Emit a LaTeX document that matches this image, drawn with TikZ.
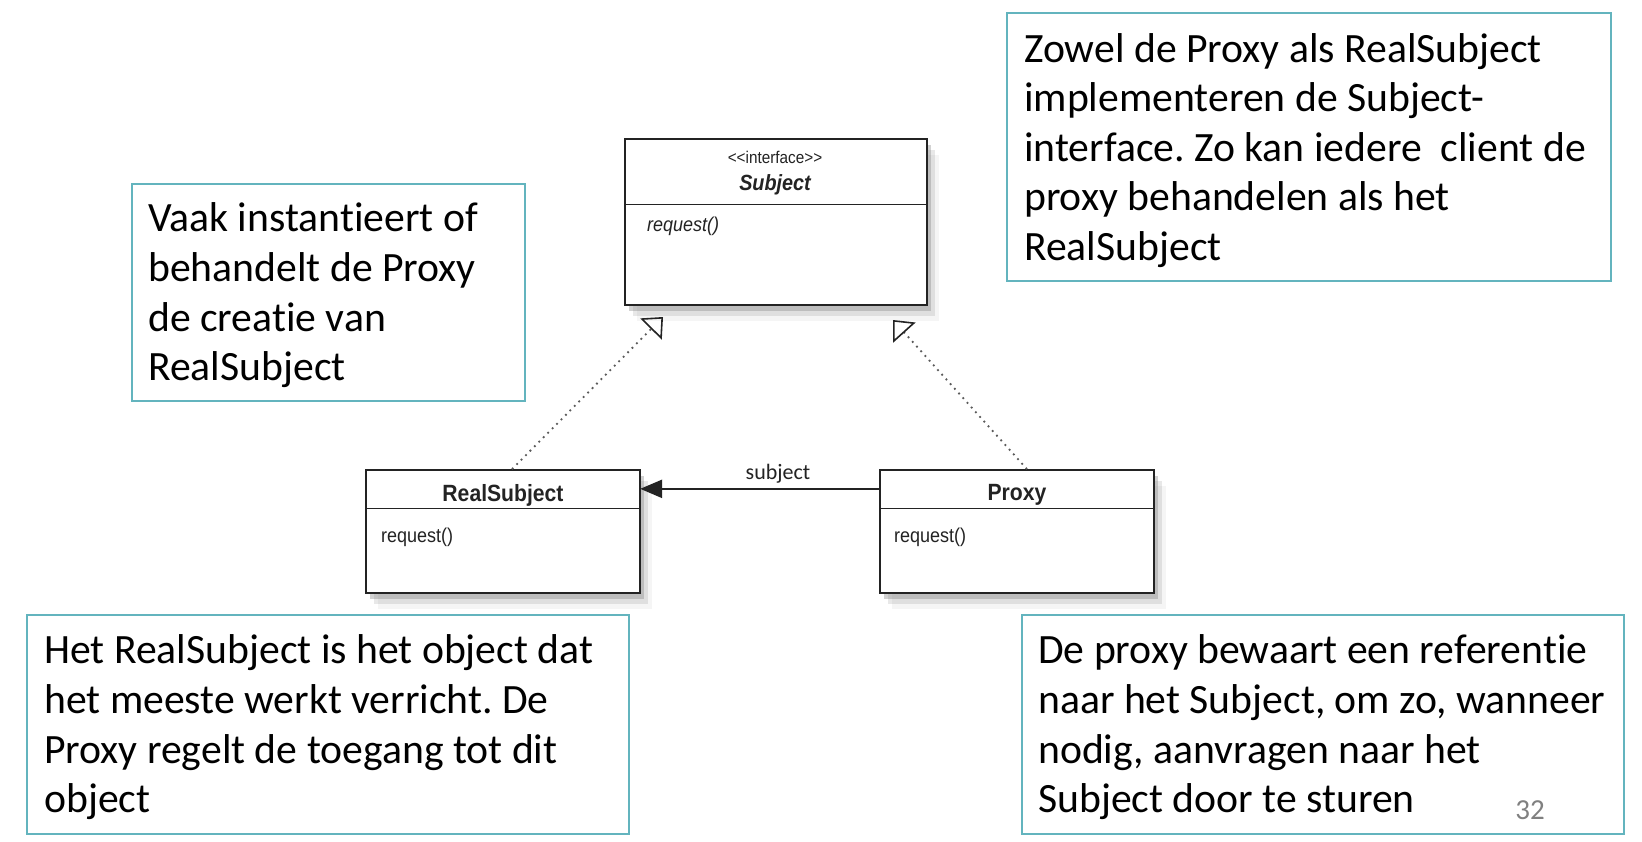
\documentclass[tikz,border=0pt]{standalone}
\usepackage{fontspec}
\setmainfont[Ligatures={NoCommon}]{Carlito}
\newfontfamily\umlfont[FakeStretch=0.9]{Liberation Sans}
\usetikzlibrary{arrows.meta,shadows,calc}
\definecolor{tealbox}{RGB}{99,180,190}
\definecolor{umlline}{RGB}{35,35,35}
\definecolor{dotgray}{RGB}{90,90,90}
\frenchspacing
\begin{document}
\begin{tikzpicture}[x=1pt,y=-1pt,
  notebox/.style={draw=tealbox, line width=1.8pt, anchor=north west, inner sep=0pt},
  notetext/.style={anchor=west, inner sep=0pt, align=left, font=\fontsize{41.7}{49.6}\selectfont},
  umlbox/.style={draw=umlline, line width=1.7pt, fill=white, inner sep=0pt,
    drop shadow={shadow xshift=12pt, shadow yshift=-16pt, opacity=0.08},
    drop shadow={shadow xshift=8pt, shadow yshift=-11pt, opacity=0.18},
    drop shadow={shadow xshift=4pt, shadow yshift=-6pt, opacity=0.35}},
  hdr/.style={inner sep=0pt, font=\umlfont\fontsize{23.5}{25}\selectfont\bfseries, text=umlline},
  umltxt/.style={inner sep=0pt, font=\umlfont\fontsize{20}{22}\selectfont, text=umlline},
  divider/.style={draw=umlline, line width=1.5pt},
  realize/.style={draw=dotgray, line width=1.8pt, dash pattern=on 1.8pt off 4.5pt,
    -{Triangle[open, length=17pt, width=30pt, line width=1.6pt, color=umlline]}},
  assoc/.style={draw=umlline, line width=2.6pt, -{Triangle[length=22pt, width=18pt]}}
]
\useasboundingbox (0,0) rectangle (1642,842);
\fill[white] (0,0) rectangle (1642,842);

% Note boxes
\node[notebox, minimum width=604pt, minimum height=268pt] (nTR) at (1006,12.5) {};
\node[notetext] (tTR) at ($(nTR.west)+(18,3)$)
  {Zowel de Proxy als RealSubject\\implementeren de Subject-\\interface. Zo kan iedere\ \ client de\\proxy behandelen als het\\RealSubject};
\node[notebox, minimum width=393pt, minimum height=217pt] (nL) at (131,183) {};
\node[notetext] (tL) at ($(nL.west)+(17,3)$)
  {Vaak instantieert of\\behandelt de Proxy\\de creatie van\\RealSubject};
\node[notebox, minimum width=602pt, minimum height=219pt] (nBL) at (26,614) {};
\node[notetext] (tBL) at ($(nBL.west)+(18,3)$)
  {Het RealSubject is het object dat\\het meeste werkt verricht. De\\Proxy regelt de toegang tot dit\\object};
\node[notebox, minimum width=602pt, minimum height=219pt] (nBR) at (1021,614) {};
\node[notetext] (tBR) at ($(nBR.west)+(17,3)$)
  {De proxy bewaart een referentie\\naar het Subject, om zo, wanneer\\nodig, aanvragen naar het\\Subject door te sturen};
\node[inner sep=0pt, text=gray, font=\fontsize{29}{31}\selectfont] (pg) at (1530,810) {32};

% Subject interface
\node[umlbox, minimum width=302pt, minimum height=166pt] (subj) at (776,222) {};
\node[inner sep=0pt, minimum width=302pt, minimum height=66pt, anchor=north] (subjT) at (subj.north) {};
\draw[divider] (subjT.south west) -- (subjT.south east);
\node[umltxt, font=\umlfont\fontsize{17}{19}\selectfont] (sIf) at (775,157) {\textless\textless interface\textgreater\textgreater};
\node[umltxt, font=\umlfont\fontsize{22}{24}\selectfont\bfseries\itshape] (sName) at (775,185) {Subject};
\node[umltxt, anchor=west, font=\umlfont\fontsize{20}{22}\selectfont\itshape] (sReq) at (647,226) {request()};

% RealSubject
\node[umlbox, minimum width=274pt, minimum height=123pt] (rs) at (503,531.5) {};
\node[inner sep=0pt, minimum width=274pt, minimum height=39pt, anchor=north] (rsT) at (rs.north) {};
\draw[divider] (rsT.south west) -- (rsT.south east);
\node[hdr] (rsName) at (503,495) {RealSubject};
\node[umltxt, anchor=west] (rsReq) at (381,537) {request()};

% Proxy
\node[umlbox, minimum width=274pt, minimum height=123pt] (px) at (1017,531.5) {};
\node[inner sep=0pt, minimum width=274pt, minimum height=39pt, anchor=north] (pxT) at (px.north) {};
\draw[divider] (pxT.south west) -- (pxT.south east);
\node[hdr] (pxName) at (1017,495) {Proxy};
\node[umltxt, anchor=west] (pxReq) at (894,537) {request()};

% Association
\draw[assoc] (pxT.west) -- (rsT.east);
\node[inner sep=0pt, text=umlline, font=\fontsize{22}{24}\selectfont] (lbl) at (778,474) {subject};

% Realizations
\coordinate (tipL) at (663,317);
\coordinate (tipR) at (893,320);
\draw[realize] ($(rs.north)+(9,0)$) -- (tipL);
\draw[realize] ($(px.north)+(10,0)$) -- (tipR);
\end{tikzpicture}
\end{document}
